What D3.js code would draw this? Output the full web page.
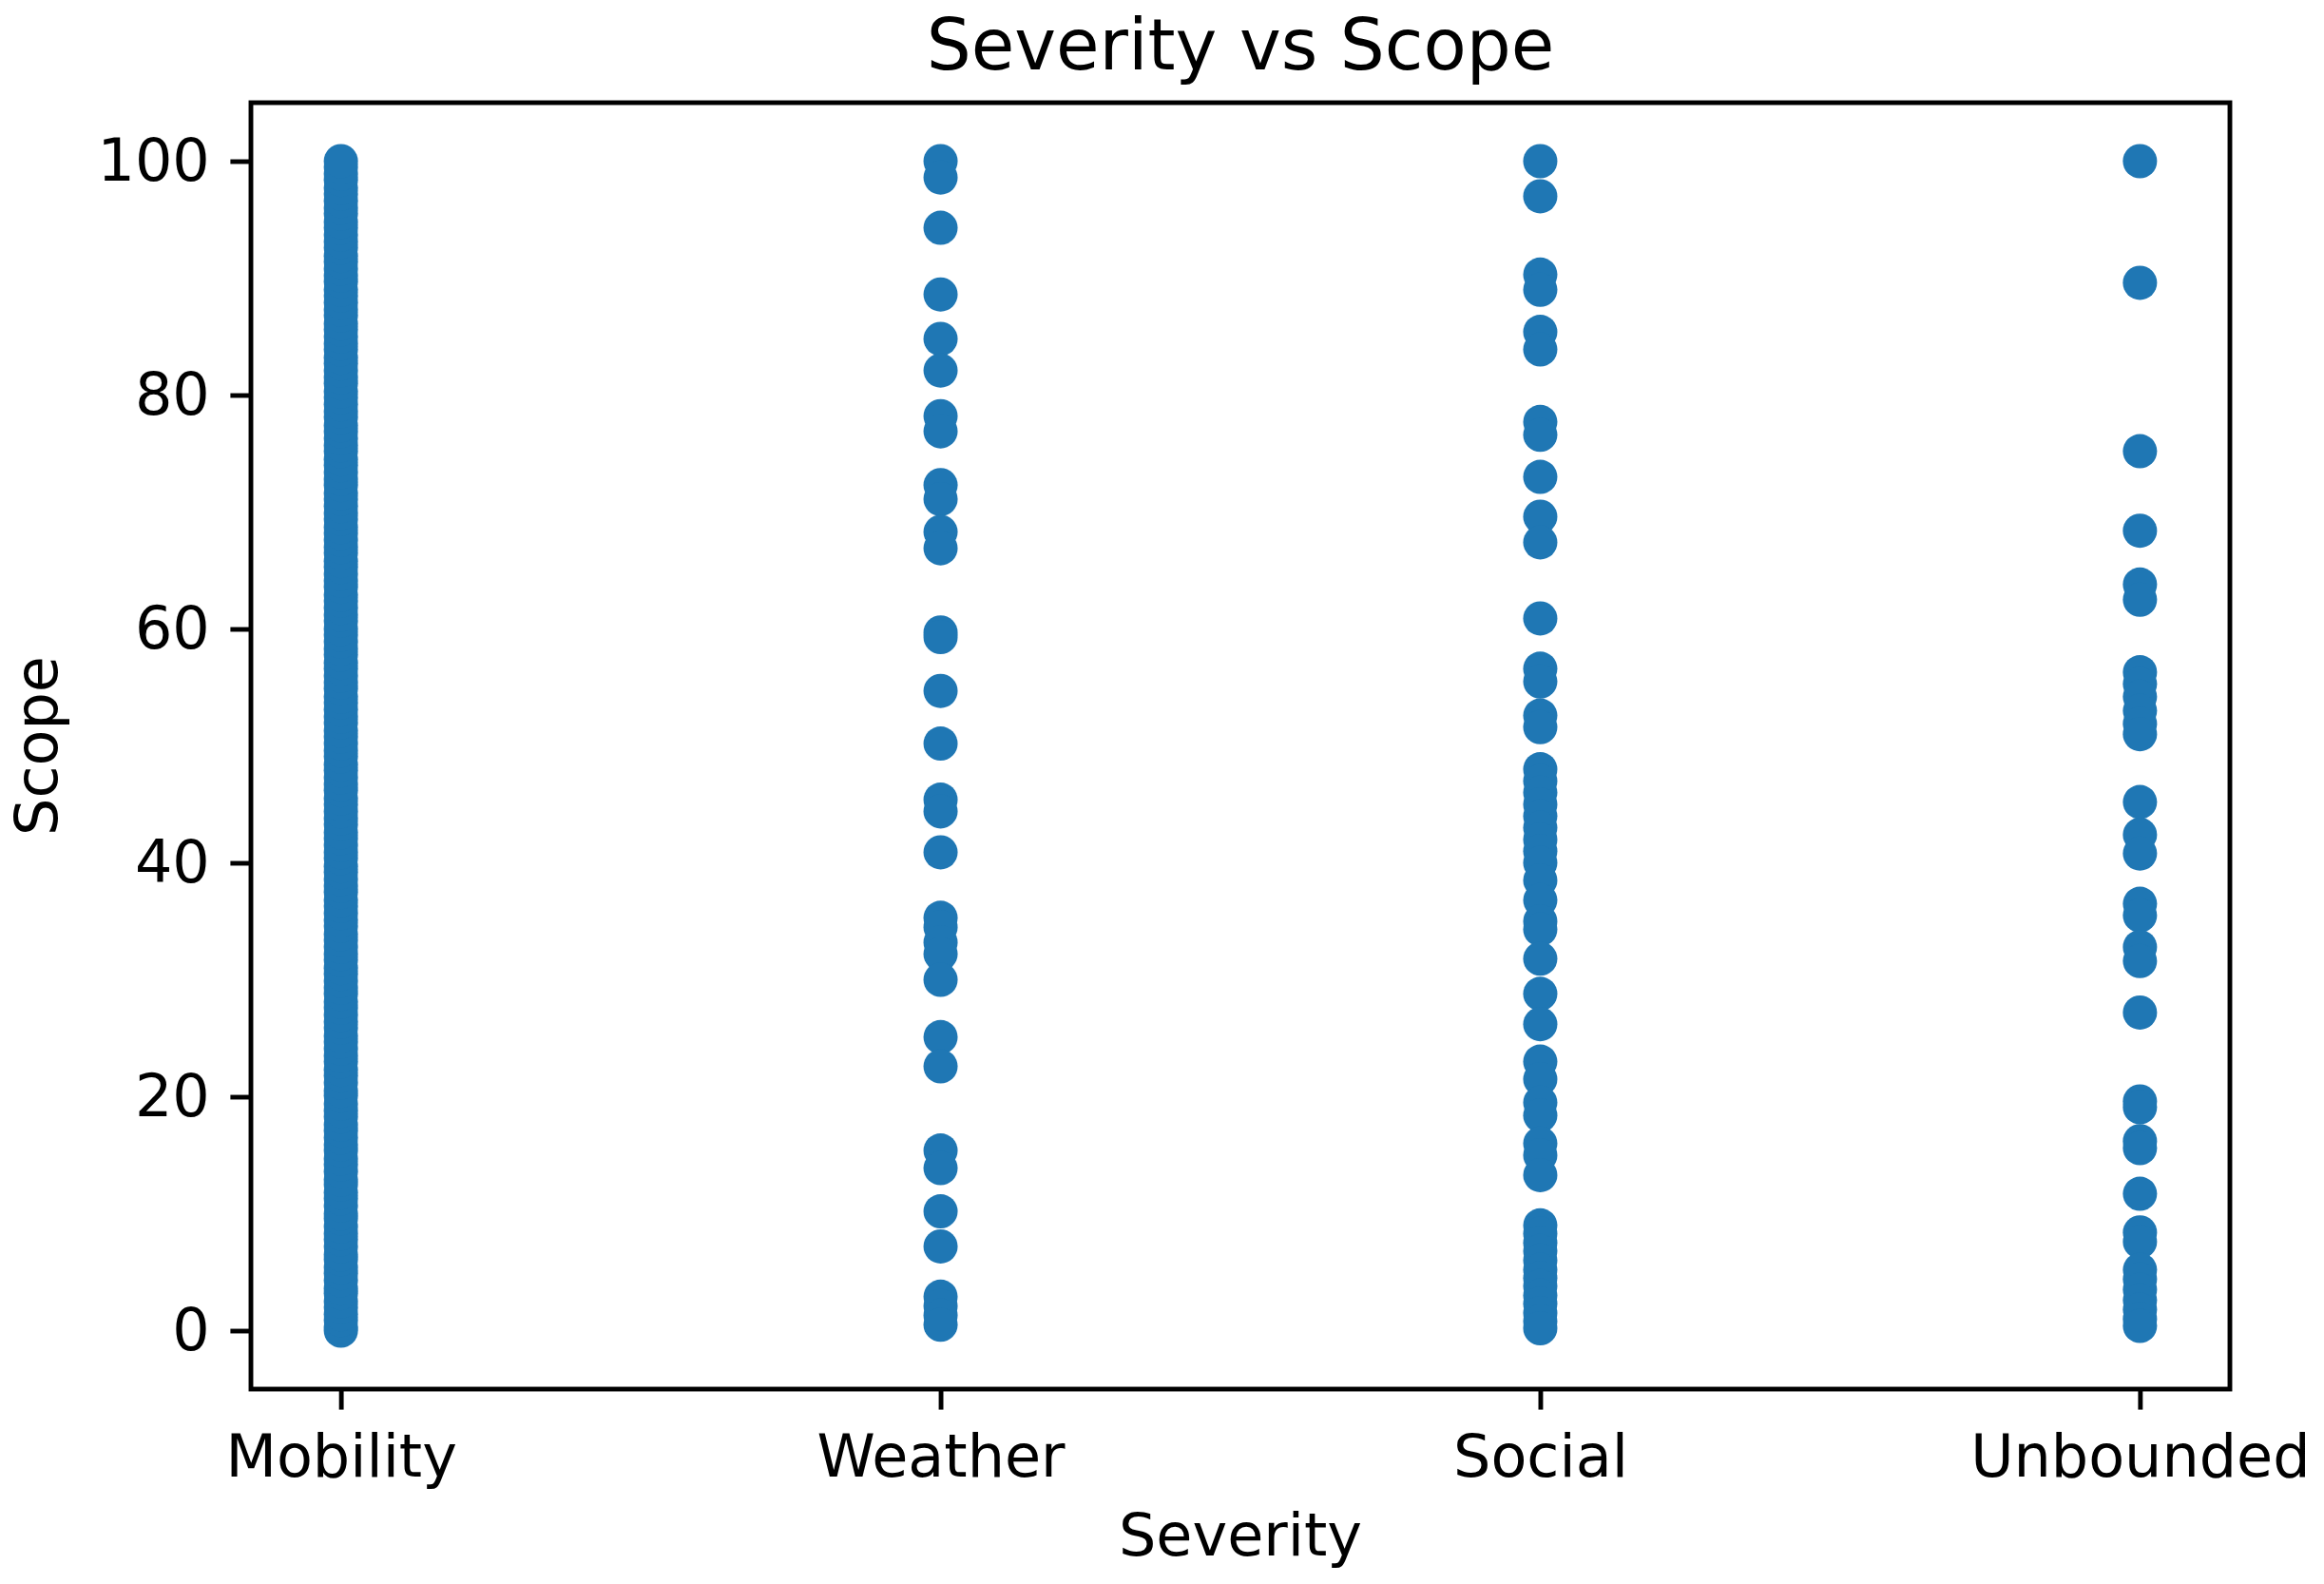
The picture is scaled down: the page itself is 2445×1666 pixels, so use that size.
<!DOCTYPE html>
<html>
<head>
<meta charset="utf-8">
<script src="https://cdn.jsdelivr.net/npm/d3@7"></script>
<style>
    body { margin: 0; background: #fff; }
    svg { display: block; font-family: 'DejaVu Sans', sans-serif; }
</style>
</head>
<body>
<div class="scatter-container"></div>
<script>
// Data
const categories = ['Mobility', 'Weather', 'Social', 'Unbounded'];

const mobilityScope = [
    0.0, 0.3, 0.9, 1.4, 2.0, 2.5, 3.2, 3.6, 4.3, 4.9, 5.4, 6.1, 6.5, 7.2, 7.8, 8.3,
    8.9, 9.6, 10.0, 10.7, 11.3, 11.8, 12.5, 12.9, 13.6, 14.2, 14.7, 15.4, 15.9, 16.5,
    17.1, 17.6, 18.3, 18.8, 19.4, 20.1, 20.5, 21.2, 21.8, 22.3, 23.0, 23.5, 24.1,
    24.7, 25.2, 25.9, 26.4, 27.0, 27.6, 28.1, 28.8, 29.3, 29.9, 30.5, 31.0, 31.7,
    32.2, 32.8, 33.4, 33.9, 34.6, 35.1, 35.7, 36.3, 36.8, 37.5, 38.0, 38.6, 39.2,
    39.7, 40.4, 40.9, 41.5, 42.1, 42.6, 43.3, 43.8, 44.4, 45.0, 45.5, 46.2, 46.7,
    47.3, 47.9, 48.4, 49.1, 49.6, 50.2, 50.8, 51.3, 52.0, 52.5, 53.1, 53.7, 54.2,
    54.9, 55.4, 56.0, 56.6, 57.1, 57.8, 58.3, 58.9, 59.5, 60.0, 60.7, 61.2, 61.8,
    62.4, 62.9, 63.6, 64.1, 64.7, 65.3, 65.8, 66.5, 67.0, 67.6, 68.2, 68.7, 69.4,
    69.9, 70.5, 71.1, 71.6, 72.3, 72.8, 73.4, 74.0, 74.5, 75.2, 75.7, 76.3, 76.9,
    77.4, 78.1, 78.6, 79.2, 79.8, 80.3, 81.0, 81.5, 82.1, 82.7, 83.2, 83.9, 84.4,
    85.0, 85.6, 86.1, 86.8, 87.3, 87.9, 88.5, 89.0, 89.7, 90.2, 90.8, 91.4, 91.9,
    92.6, 93.1, 93.7, 94.3, 94.8, 95.5, 96.0, 96.6, 97.2, 97.7, 98.4, 98.9, 99.5,
    100.0
];

const weatherScope = [
    100.0, 98.6, 94.3, 88.6, 84.8, 82.1, 78.2, 76.9, 72.3, 71.1, 68.3, 66.9,
    59.7, 59.3, 54.7, 50.2, 45.4, 44.4, 40.9, 35.3, 34.5, 33.2, 32.2, 30.0,
    25.1, 22.6, 15.4, 13.9, 10.2, 7.2, 2.9, 2.1, 1.3, 0.5
];

const socialScope = [
    100.0, 97.0, 90.3, 89.0, 85.4, 83.9, 77.7, 76.6, 73.0, 69.6, 67.4, 60.9,
    56.6, 55.5, 52.6, 51.6, 48.0, 47.0, 46.0, 45.0, 44.0, 43.0, 42.0, 41.0,
    40.0, 38.5, 36.8, 35.0, 34.3, 31.8, 28.8, 26.2, 23.0, 21.5, 19.5, 18.4,
    16.0, 15.0, 13.3, 9.0, 8.3, 7.5, 6.8, 6.0, 5.2, 4.5, 3.8, 3.0, 2.3, 1.5,
    0.8, 0.2
];

const unboundedScope = [
    100.0, 89.6, 75.2, 68.4, 63.8, 62.5, 56.3, 55.3, 54.2, 53.0, 51.9, 51.0,
    45.2, 42.4, 40.8, 36.5, 35.5, 32.8, 31.6, 27.2, 19.6, 19.1, 16.2, 15.6,
    11.7, 8.4, 7.6, 5.2, 4.4, 3.5, 2.6, 1.8, 1.0, 0.4
];

const yTicks = [0, 20, 40, 60, 80, 100];

// Data preparation
function prepareScatterData() {
    const series = [mobilityScope, weatherScope, socialScope, unboundedScope];
    return categories.flatMap((c, i) => series[i].map(v => ({severity: c, scope: v})));
}

// Main function
function ready() {
    const points = prepareScatterData();

    // Margin convention
    const margin = {top: 108, right: 99, bottom: 205, left: 264};
    const width = 2445 - margin.left - margin.right;
    const height = 1666 - margin.top - margin.bottom;

    const fontSize = 62;
    const tickLen = 21.6;
    const lineW = 4.9;

    // Scales
    const xScale = d3
        .scalePoint()
        .domain(categories)
        .range([0, width])
        .padding(0.15);

    const yScale = d3
        .scaleLinear()
        .domain([-5, 105])
        .range([height, 0]);

    // Draw base
    const svg = d3.select('.scatter-container')
        .append('svg')
        .attr('width', 2445)
        .attr('height', 1666)
        .append('g')
        .attr('transform', `translate(${margin.left}, ${margin.top})`);

    // Draw points
    svg.append('g')
        .selectAll('circle')
        .data(points)
        .enter()
        .append('circle')
        .attr('cx', d => xScale(d.severity))
        .attr('cy', d => yScale(d.scope))
        .attr('r', 18)
        .style('fill', '#1f77b4');

    // Draw axes
    const xAxis = d3
        .axisBottom(xScale)
        .tickSizeInner(tickLen)
        .tickSizeOuter(0)
        .tickPadding(26);

    const xAxisDraw = svg
        .append('g')
        .attr('class', 'x axis')
        .attr('transform', `translate(0, ${height})`)
        .call(xAxis);

    const yAxis = d3
        .axisLeft(yScale)
        .tickValues(yTicks)
        .tickSizeInner(tickLen)
        .tickSizeOuter(0)
        .tickPadding(21.6);

    const yAxisDraw = svg
        .append('g')
        .attr('class', 'y axis')
        .call(yAxis);

    [xAxisDraw, yAxisDraw].forEach(ax => {
        ax.select('.domain').remove();
        ax.selectAll('line').attr('stroke', '#000').attr('stroke-width', lineW);
        ax.selectAll('text')
            .attr('fill', '#000')
            .style('font-size', fontSize + 'px')
            .style('font-family', "'DejaVu Sans', sans-serif");
    });

    // Frame
    svg.append('rect')
        .attr('width', width)
        .attr('height', height)
        .attr('fill', 'none')
        .attr('stroke', '#000')
        .attr('stroke-width', lineW);

    // Titles
    svg.append('text')
        .attr('x', width / 2)
        .attr('y', -35)
        .attr('text-anchor', 'middle')
        .style('font-size', '74px')
        .text('Severity vs Scope');

    svg.append('text')
        .attr('x', width / 2)
        .attr('y', 1636 - margin.top)
        .attr('text-anchor', 'middle')
        .style('font-size', fontSize + 'px')
        .text('Severity');

    svg.append('text')
        .attr('transform', `translate(${60 - margin.left}, ${height / 2}) rotate(-90)`)
        .attr('text-anchor', 'middle')
        .style('font-size', fontSize + 'px')
        .text('Scope');
}

ready();
</script>
</body>
</html>
